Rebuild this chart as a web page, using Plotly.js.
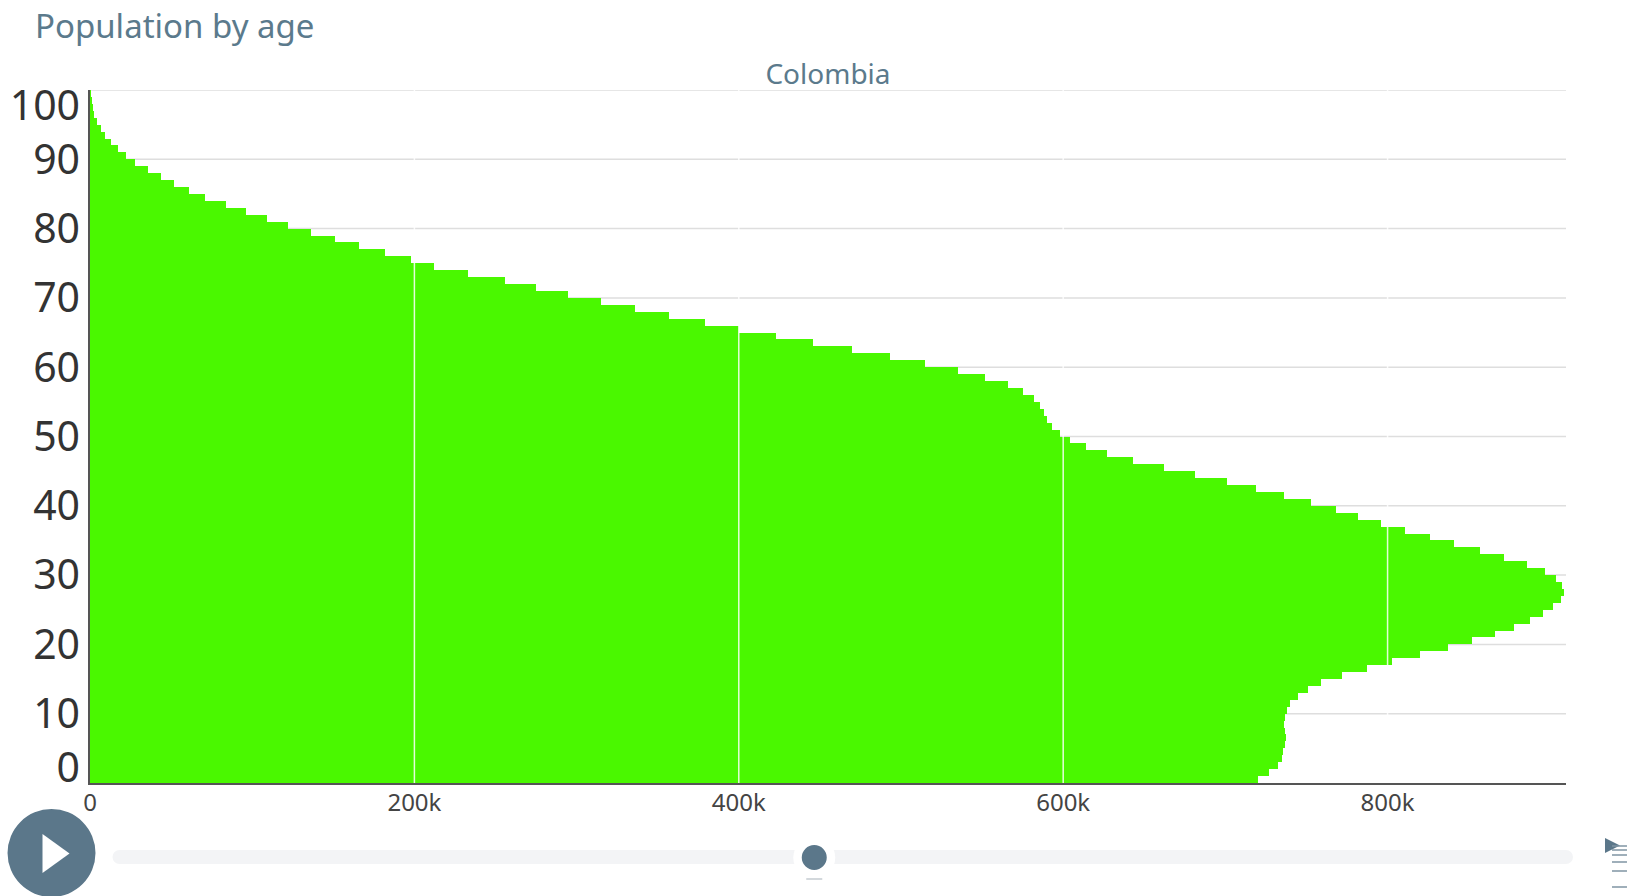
<!DOCTYPE html>
<html>
<head>
<meta charset="utf-8">
<script src="https://cdn.plot.ly/plotly-3.0.1.min.js"></script>
<style>
  html, body { margin: 0; padding: 0; background: #ffffff; }
  #chart { width: 1627px; height: 896px; }
</style>
</head>
<body>
<div id="chart"></div>
<script>
// ---- data ----
const chartTitle = 'Population by age';
const countryName = 'Colombia';

const ages = [
  0, 1, 2, 3, 4, 5, 6, 7, 8, 9,
  10, 11, 12, 13, 14, 15, 16, 17, 18, 19,
  20, 21, 22, 23, 24, 25, 26, 27, 28, 29,
  30, 31, 32, 33, 34, 35, 36, 37, 38, 39,
  40, 41, 42, 43, 44, 45, 46, 47, 48, 49,
  50, 51, 52, 53, 54, 55, 56, 57, 58, 59,
  60, 61, 62, 63, 64, 65, 66, 67, 68, 69,
  70, 71, 72, 73, 74, 75, 76, 77, 78, 79,
  80, 81, 82, 83, 84, 85, 86, 87, 88, 89,
  90, 91, 92, 93, 94, 95, 96, 97, 98, 99
];

const population = [
  720000, 727000, 732500, 735000, 735600, 736600, 737300, 736600, 736000, 736600,
  738000, 740000, 745000, 751000, 759000, 772000, 787000, 803000, 820000, 837000,
  852000, 866000, 878000, 888000, 896000, 902000, 907000, 908500, 907500, 904000,
  897000, 886000, 872000, 857000, 841000, 826000, 811000, 796000, 782000, 768000,
  753000, 736000, 719000, 701000, 681000, 662000, 643000, 627000, 614000, 604000,
  598000, 593000, 590000, 588000, 586000, 582000, 575000, 566000, 552000, 535000,
  515000, 493000, 470000, 446000, 423000, 400000, 379000, 357000, 336000, 315000,
  295000, 275000, 256000, 233000, 212000, 198000, 182000, 166000, 151000, 136000,
  122000, 109000, 96000, 84000, 71000, 61000, 52000, 43500, 36000, 28000,
  22000, 17000, 13000, 9400, 6800, 4300, 2500, 1600, 1000, 500
];

const yTickValues = [0, 10, 20, 30, 40, 50, 60, 70, 80, 90, 100];
const yTickLabels = ['0', '10', '20', '30', '40', '50', '60', '70', '80', '90', '100'];
const xTickValues = [0, 200000, 400000, 600000, 800000];
const xTickLabels = ['0', '200k', '400k', '600k', '800k'];

// ---- layout helpers (pixel -> paper) ----
const W = 1627, H = 896;
const L = 89.5, R = 1566, T = 90, B = 783;
const px = x => (x - L) / (R - L);
const py = y => (B - y) / (B - T);

const slate = '#5b778a';
const FONT = '"Noto Sans", "Open Sans", sans-serif';

// y tick labels at the ends sit inside the range
const yMin = 0, yMax = 100, edgeInset = 2.2;
const yTickPos = yTickValues.map(v => v === yMin ? v + edgeInset : (v === yMax ? v - edgeInset : v));

const shapes = [];
// horizontal grid lines (below bars)
yTickValues.filter(v => v > yMin).forEach(v => {
  shapes.push({type: 'line', xref: 'paper', yref: 'y', x0: 0, x1: 1, y0: v, y1: v,
    line: {color: '#dedede', width: 1.5}, layer: 'below'});
});
// vertical grid lines (white, above bars)
xTickValues.filter(v => v > 0).forEach(v => {
  shapes.push({type: 'line', xref: 'x', yref: 'paper', x0: v, x1: v, y0: 0, y1: 1,
    line: {color: 'rgba(255,255,255,0.85)', width: 1.5}, layer: 'above'});
});

// play button
shapes.push({type: 'circle', xref: 'paper', yref: 'paper',
  x0: px(7), x1: px(95), y0: py(897), y1: py(809), fillcolor: slate, line: {width: 0}});
shapes.push({type: 'path', xref: 'paper', yref: 'paper',
  path: `M ${px(42)},${py(834)} L ${px(42)},${py(873)} L ${px(69)},${py(853.5)} Z`,
  fillcolor: '#ffffff', line: {width: 0}});
// slider rail
shapes.push({type: 'rect', xref: 'paper', yref: 'paper',
  x0: px(119), x1: px(1566), y0: py(864), y1: py(850), fillcolor: '#f3f4f6', line: {width: 0}});
shapes.push({type: 'circle', xref: 'paper', yref: 'paper',
  x0: px(112), x1: px(126), y0: py(864), y1: py(850), fillcolor: '#f3f4f6', line: {width: 0}});
shapes.push({type: 'circle', xref: 'paper', yref: 'paper',
  x0: px(1559), x1: px(1573), y0: py(864), y1: py(850), fillcolor: '#f3f4f6', line: {width: 0}});
// slider handle
shapes.push({type: 'circle', xref: 'paper', yref: 'paper',
  x0: px(793), x1: px(835), y0: py(878.5), y1: py(836.5), fillcolor: '#ffffff', line: {width: 0}});
shapes.push({type: 'circle', xref: 'paper', yref: 'paper',
  x0: px(801.5), x1: px(826.5), y0: py(870), y1: py(845), fillcolor: slate, line: {width: 0}});
shapes.push({type: 'line', xref: 'paper', yref: 'paper',
  x0: px(806), x1: px(822), y0: py(879), y1: py(879), line: {color: '#d3d8dc', width: 2}});
// right-edge menu icon
shapes.push({type: 'path', xref: 'paper', yref: 'paper',
  path: `M ${px(1605)},${py(838)} L ${px(1605)},${py(853)} L ${px(1620)},${py(845.5)} Z`,
  fillcolor: slate, line: {width: 0}});
[846, 850, 855, 862, 871, 887].forEach(y => {
  shapes.push({type: 'line', xref: 'paper', yref: 'paper',
    x0: px(1612), x1: px(1627), y0: py(y), y1: py(y), line: {color: '#7f95a3', width: 1.5}});
});

const trace = {
  type: 'bar',
  orientation: 'h',
  x: population,
  y: ages,
  offset: 0,
  width: 1,
  marker: {color: '#4af800', line: {width: 0}},
  hoverinfo: 'x+y',
  showlegend: false
};

const layout = {
  width: W, height: H,
  margin: {l: L, r: W - R, t: T, b: H - B, pad: 0},
  paper_bgcolor: '#ffffff',
  plot_bgcolor: '#ffffff',
  font: {family: FONT, color: '#444'},
  bargap: 0,
  showlegend: false,
  title: {
    text: countryName,
    font: {family: FONT, size: 28, color: '#5b7a8c'},
    x: 0.5, xref: 'paper', xanchor: 'center',
    y: 1 - 74.5 / H, yref: 'container', yanchor: 'middle'
  },
  xaxis: {
    range: [0, 910000],
    tickvals: xTickValues,
    ticktext: xTickLabels,
    showgrid: false,
    zeroline: false,
    showline: true, linecolor: '#555', linewidth: 1.5,
    ticks: '',
    ticklabelstandoff: -3,
    tickfont: {family: FONT, size: 24, color: '#444'},
    fixedrange: true
  },
  yaxis: {
    range: [yMin, yMax],
    tickvals: yTickPos,
    ticktext: yTickLabels,
    showgrid: false,
    zeroline: false,
    showline: true, linecolor: '#555', linewidth: 1.5,
    ticks: '',
    ticklabelstandoff: 0,
    tickfont: {family: FONT, size: 41, color: '#333'},
    fixedrange: true
  },
  shapes: shapes,
  annotations: [{
    text: chartTitle,
    xref: 'paper', yref: 'paper',
    x: px(32), y: py(26), xanchor: 'left', yanchor: 'middle',
    showarrow: false,
    font: {family: FONT, size: 33, color: '#5b7a8c'}
  }]
};

Plotly.newPlot('chart', [trace], layout, {displayModeBar: false, responsive: false});
</script>
</body>
</html>
